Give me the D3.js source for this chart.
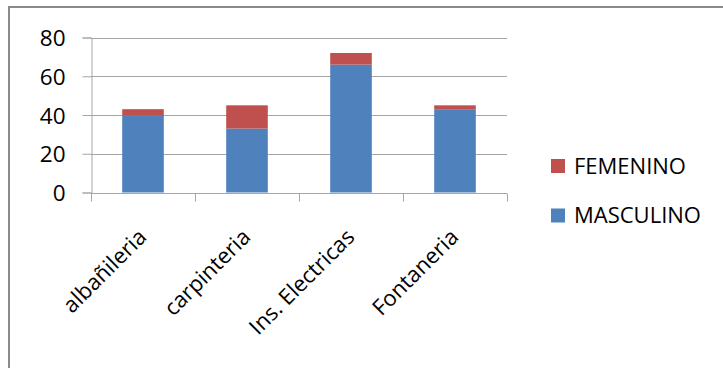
<!DOCTYPE html>
<html>
<head>
<meta charset="utf-8">
<script src="https://cdn.jsdelivr.net/npm/d3@7"></script>
<style>
  html, body { margin: 0; padding: 0; background: #fff; }
  svg { display: block; }
  text { font-family: "Open Sans", "DejaVu Sans", sans-serif; fill: #000; }
</style>
</head>
<body>
<script>
// Stacked column chart: trainees per trade, by sex
const categories = ["albañileria", "carpinteria", "Ins. Electricas", "Fontaneria"];
const masculino = [40, 33, 66, 43];
const femenino = [3, 12, 6, 2];
const seriesNames = ["MASCULINO", "FEMENINO"];
const yTicks = [0, 20, 40, 60, 80];

const W = 723, H = 368;
const colors = { MASCULINO: "#4f81bd", FEMENINO: "#c0504d" };

const svg = d3.select("body").append("svg")
  .attr("width", W).attr("height", H);

svg.append("rect").attr("width", W).attr("height", H).attr("fill", "#fff");

// chart frame (left and top edges visible)
svg.append("path")
  .attr("d", `M9,${H + 2} L9,7 L${W + 2},7`)
  .attr("fill", "none").attr("stroke", "#8a8a8a").attr("stroke-width", 2);

const plot = { left: 91, right: 507, top: 37.5, bottom: 192.5 };

const x = d3.scaleBand()
  .domain(categories)
  .range([plot.left, plot.right])
  .paddingInner(0.6)
  .paddingOuter(0.3);

const y = d3.scaleLinear()
  .domain([0, 80])
  .range([plot.bottom, plot.top]);

// horizontal gridlines
svg.append("g")
  .selectAll("line")
  .data(yTicks.filter(d => d > 0))
  .join("line")
  .attr("x1", plot.left).attr("x2", plot.right)
  .attr("y1", d => Math.round(y(d)) + 0.5).attr("y2", d => Math.round(y(d)) + 0.5)
  .attr("stroke", "#a6a6a6").attr("stroke-width", 1);

// stacked bars
const rows = categories.map((c, i) => ({ cat: c, MASCULINO: masculino[i], FEMENINO: femenino[i] }));
const stack = d3.stack().keys(seriesNames)(rows);

svg.append("g")
  .selectAll("g")
  .data(stack)
  .join("g")
  .attr("fill", d => colors[d.key])
  .selectAll("rect")
  .data(d => d)
  .join("rect")
  .attr("x", d => x(d.data.cat))
  .attr("width", x.bandwidth())
  .attr("y", d => y(d[1]))
  .attr("height", d => y(d[0]) - y(d[1]));

// y axis
const yAxis = d3.axisLeft(y)
  .tickValues(yTicks)
  .tickSize(9)
  .tickPadding(17)
  .tickFormat(d3.format("d"));

const gy = svg.append("g")
  .attr("transform", `translate(${plot.left + 0.5},0)`)
  .call(yAxis);
gy.select(".domain").attr("stroke", "#a6a6a6");
gy.selectAll(".tick line").attr("stroke", "#a6a6a6");
gy.selectAll(".tick text")
  .style("font-size", "22.5px")
  .attr("dy", "0.36em");

// x axis with tick marks at the category boundaries
const gx = svg.append("g")
  .attr("transform", `translate(0,${Math.round(plot.bottom) + 0.5})`);
gx.append("line")
  .attr("x1", plot.left).attr("x2", plot.right)
  .attr("stroke", "#a6a6a6");
const boundaries = d3.range(categories.length + 1)
  .map(i => plot.left + i * x.step());
gx.selectAll("line.tk")
  .data(boundaries)
  .join("line")
  .attr("class", "tk")
  .attr("x1", d => Math.round(d) + 0.5).attr("x2", d => Math.round(d) + 0.5)
  .attr("y1", 0).attr("y2", 8)
  .attr("stroke", "#a6a6a6");

// rotated category labels
svg.append("g")
  .selectAll("text")
  .data(categories)
  .join("text")
  .attr("transform", d => `translate(${x(d) + x.bandwidth() / 2 - 6},${plot.bottom + 35}) rotate(-45)`)
  .attr("text-anchor", "end")
  .attr("dy", "0.7em")
  .style("font-size", "22px")
  .text(d => d);

// legend
const legendItems = ["FEMENINO", "MASCULINO"];
const lg = svg.append("g")
  .selectAll("g")
  .data(legendItems)
  .join("g")
  .attr("transform", (d, i) => `translate(551,${159 + i * 49.5})`);
lg.append("rect")
  .attr("width", 14).attr("height", 14)
  .attr("fill", d => colors[d]);
lg.append("text")
  .attr("x", 23).attr("y", 14.5)
  .style("font-size", "22px")
  .text(d => d);
</script>
</body>
</html>
